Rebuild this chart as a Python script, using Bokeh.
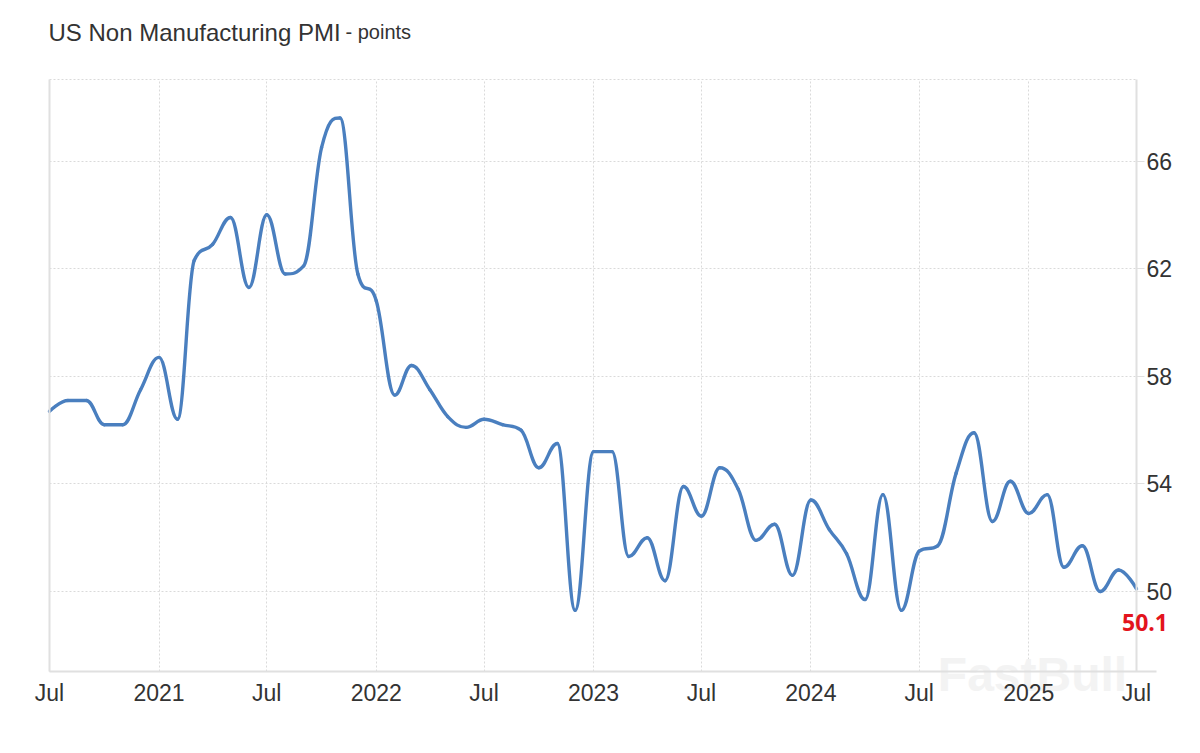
import numpy as np
import pandas as pd
from bokeh.plotting import figure
from bokeh.models import (Range1d, FixedTicker, CustomJSTickFormatter, LinearAxis, DatetimeAxis,
                          Label, Grid, ColumnDataSource)
from bokeh.embed import file_html
from bokeh.resources import INLINE

# ---------------- data ----------------
months = pd.date_range("2020-07-01", "2025-07-01", freq="MS")
pmi = [56.7, 57.1, 57.1, 56.2, 56.2, 57.5,
       58.7, 56.4, 62.3, 62.9, 63.9, 61.3, 64.0, 61.8, 62.1, 66.5, 67.6, 61.8,
       60.8, 57.3, 58.4, 57.5, 56.5, 56.1, 56.4, 56.2, 56.0, 54.6, 55.5, 49.3,
       55.2, 55.2, 51.3, 52.0, 50.4, 53.9, 52.8, 54.6, 53.8, 51.9, 52.5, 50.6,
       53.4, 52.3, 51.4, 49.7, 53.6, 49.3, 51.5, 51.7, 54.4, 55.9, 52.6, 54.1,
       52.9, 53.6, 50.9, 51.7, 50.0, 50.8, 50.1]
tick_dates = ["2020-07-01", "2021-01-01", "2021-07-01", "2022-01-01", "2022-07-01",
              "2023-01-01", "2023-07-01", "2024-01-01", "2024-07-01", "2025-01-01",
              "2025-07-01"]
y_ticks = [50, 54, 58, 62, 66]
title_main = "US Non Manufacturing PMI"
title_unit = "- points"
last_label = "50.1"
watermark = "FastBull"

# ---------------- helpers ----------------
def to_ms(d):
    return pd.to_datetime(d).values.astype("datetime64[ms]").astype(np.int64).astype(float)

xs = list(to_ms(months))
ys = list(pmi)
tick_ms = list(to_ms(pd.to_datetime(tick_dates)))

# Highcharts-like spline control points (smoothing 1.5)
n = len(xs)
rcx = [None] * n; rcy = [None] * n; lcx = [None] * n; lcy = [None] * n
sm = 1.5
den = sm + 1
for i in range(1, n - 1):
    px, py = xs[i], ys[i]
    lx, ly = xs[i - 1], ys[i - 1]
    nx, ny = xs[i + 1], ys[i + 1]
    lcx_i = (sm * px + lx) / den
    lcy_i = (sm * py + ly) / den
    rcx_i = (sm * px + nx) / den
    rcy_i = (sm * py + ny) / den
    corr = 0.0
    if rcx_i != lcx_i:
        corr = ((rcy_i - lcy_i) * (rcx_i - px)) / (rcx_i - lcx_i) + py - rcy_i
    lcy_i += corr
    rcy_i += corr
    if lcy_i > ly and lcy_i > py:
        lcy_i = max(ly, py); rcy_i = 2 * py - lcy_i
    elif lcy_i < ly and lcy_i < py:
        lcy_i = min(ly, py); rcy_i = 2 * py - lcy_i
    if rcy_i > ny and rcy_i > py:
        rcy_i = max(ny, py); lcy_i = 2 * py - rcy_i
    elif rcy_i < ny and rcy_i < py:
        rcy_i = min(ny, py); lcy_i = 2 * py - rcy_i
    lcx[i], lcy[i], rcx[i], rcy[i] = lcx_i, lcy_i, rcx_i, rcy_i

seg = dict(x0=[], y0=[], x1=[], y1=[], cx0=[], cy0=[], cx1=[], cy1=[])
for i in range(1, n):
    seg["x0"].append(xs[i - 1]); seg["y0"].append(ys[i - 1])
    seg["x1"].append(xs[i]); seg["y1"].append(ys[i])
    seg["cx0"].append(rcx[i - 1] if rcx[i - 1] is not None else xs[i - 1])
    seg["cy0"].append(rcy[i - 1] if rcy[i - 1] is not None else ys[i - 1])
    seg["cx1"].append(lcx[i] if lcx[i] is not None else xs[i])
    seg["cy1"].append(lcy[i] if lcy[i] is not None else ys[i])
src = ColumnDataSource(seg)

# ---------------- layout geometry (pixels) ----------------
W, H = 1200, 750
PX_LEFT, PX_RIGHT = 49, 1136          # Jul 2020 / Jul 2025
PX_Y50, PX_Y66 = 591, 160.5           # gridlines of 50 and 66
PX_TOP, PX_BOTTOM = 79, 670.5         # plot area top / bottom
PX_XLINE_END = 1156
TXT_SHIFT = 9                         # alphabetic-baseline correction

ppx = (xs[-1] - xs[0]) / (PX_RIGHT - PX_LEFT)
upx = (66 - 50) / (PX_Y50 - PX_Y66)
def x_at(px): return xs[0] + (px - PX_LEFT) * ppx
def y_at(py): return 50 + (PX_Y50 - py) * upx

y_top, y_bot = y_at(PX_TOP), y_at(PX_BOTTOM)

TEXT = "#333333"
GRID = "#dadada"
AXIS = "#e0e0e0"
FONT = "Liberation Sans"

p = figure(width=W, height=H, output_backend="svg", toolbar_location=None,
           x_axis_type=None, y_axis_type=None,
           x_range=Range1d(x_at(0), x_at(W)), y_range=Range1d(y_at(H), y_at(0)),
           min_border=0)
p.background_fill_color = "white"
p.border_fill_color = "white"
p.outline_line_color = None

# bottom (datetime) axis, fixed at the plot-area bottom
xa = DatetimeAxis(fixed_location=y_bot, bounds=(xs[0], x_at(PX_XLINE_END)))
xa.ticker = FixedTicker(ticks=tick_ms)
xa.formatter = CustomJSTickFormatter(code="""
const d = new Date(tick);
const m = d.getUTCMonth();
const names = ['Jan','Feb','Mar','Apr','May','Jun','Jul','Aug','Sep','Oct','Nov','Dec'];
return m === 0 ? String(d.getUTCFullYear()) : names[m];
""")
xa.axis_line_color = AXIS
xa.axis_line_width = 2
xa.major_tick_line_color = None
xa.minor_tick_line_color = None
xa.major_label_text_font = FONT
xa.major_label_text_font_size = "23px"
xa.major_label_text_color = TEXT
xa.major_label_standoff = 3
p.add_layout(xa, "below")

# right value axis, fixed at Jul 2025
ya = LinearAxis(fixed_location=xs[-1], bounds=(y_bot, y_top))
ya.ticker = FixedTicker(ticks=y_ticks)
ya.axis_line_color = AXIS
ya.axis_line_width = 2
ya.major_tick_line_color = AXIS
ya.major_tick_out = 8
ya.major_tick_in = 0
ya.minor_tick_line_color = None
ya.major_label_text_font = FONT
ya.major_label_text_font_size = "23px"
ya.major_label_text_color = TEXT
ya.major_label_standoff = 2
p.add_layout(ya, "right")

# left border line
la = LinearAxis(fixed_location=xs[0], bounds=(y_bot, y_top),
                major_tick_line_color=None, minor_tick_line_color=None,
                major_label_text_font_size="0px", axis_line_color=AXIS, axis_line_width=2)
la.ticker = FixedTicker(ticks=[])
p.add_layout(la, "left")

xg = Grid(dimension=0, ticker=FixedTicker(ticks=tick_ms), cross_bounds=(y_bot, y_top))
yg = Grid(dimension=1, ticker=FixedTicker(ticks=y_ticks + [y_top]), cross_bounds=(xs[0], xs[-1]))
for g in (xg, yg):
    g.grid_line_color = GRID
    g.grid_line_dash = "2 2"
    g.grid_line_width = 1
    p.add_layout(g)

# watermark (under the line)
p.add_layout(Label(x=1032, y=H - 683 + TXT_SHIFT, x_units="screen", y_units="screen",
                   text=watermark, text_font=FONT, text_font_style="bold",
                   text_font_size="48px", text_color="#f3f3f3", text_align="center",
                   text_baseline="alphabetic", level="underlay"))

p.bezier(x0="x0", y0="y0", x1="x1", y1="y1", cx0="cx0", cy0="cy0", cx1="cx1", cy1="cy1",
         source=src, line_color="#4a7fbf", line_width=3.4, line_cap="round")

# titles
p.add_layout(Label(x=48, y=H - 40.7 + TXT_SHIFT, x_units="screen", y_units="screen",
                   text=title_main, text_font=FONT, text_font_size="24px", text_color=TEXT,
                   text_baseline="alphabetic"))
p.add_layout(Label(x=345, y=H - 40.7 + TXT_SHIFT, x_units="screen", y_units="screen",
                   text=title_unit, text_font=FONT, text_font_size="20px", text_color=TEXT,
                   text_baseline="alphabetic"))

# last value label
p.add_layout(Label(x=xs[-1], y=ys[-1], text=last_label, text_font="Open Sans",
                   text_font_style="bold", text_font_size="23px", text_color="#e3141c",
                   text_align="center", text_baseline="alphabetic",
                   x_offset=8.5, y_offset=-43 + TXT_SHIFT))

open("out.html", "w").write(file_html(p, INLINE))
